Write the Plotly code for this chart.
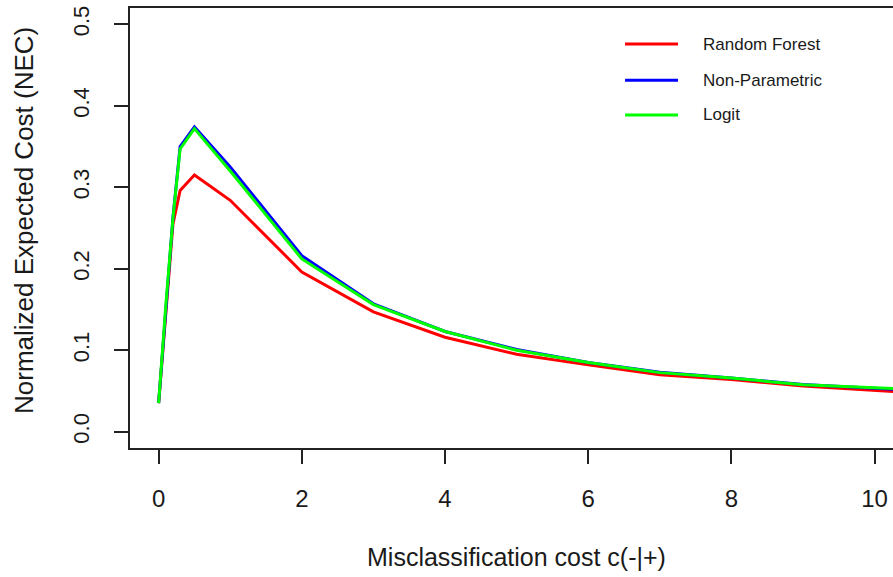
import plotly.graph_objects as go

# Data
cost = [0, 0.1, 0.2, 0.3, 0.5, 1, 2, 3, 4, 5, 6, 7, 8, 9, 10, 10.3]
random_forest = [0.035, 0.150, 0.255, 0.296, 0.315, 0.284, 0.196, 0.147, 0.116, 0.095, 0.082, 0.070, 0.064, 0.056, 0.050, 0.049]
non_parametric = [0.035, 0.155, 0.263, 0.350, 0.374, 0.325, 0.216, 0.157, 0.123, 0.101, 0.085, 0.073, 0.066, 0.058, 0.053, 0.052]
logit = [0.035, 0.155, 0.262, 0.347, 0.372, 0.320, 0.212, 0.156, 0.123, 0.100, 0.085, 0.0725, 0.066, 0.0575, 0.054, 0.053]

series_names = ["Random Forest", "Non-Parametric", "Logit"]
series_values = [random_forest, non_parametric, logit]
series_colors = ["#FF0000", "#0000FF", "#00FF00"]

x_ticks = [0, 2, 4, 6, 8, 10]
y_ticks = [0.0, 0.1, 0.2, 0.3, 0.4, 0.5]
y_tick_text = ["0.0", "0.1", "0.2", "0.3", "0.4", "0.5"]

FONT = "Liberation Sans, Arial, sans-serif"
TXT = "#1a1a1a"

fig = go.Figure()
for name, vals, col in zip(series_names, series_values, series_colors):
    fig.add_trace(go.Scatter(x=cost, y=vals, mode="lines", name=name,
                             line=dict(color=col, width=3), showlegend=False))

# Legend drawn in R style (no box)
legend_y = [0.918, 0.836, 0.757]
for name, col, ly in zip(series_names, series_colors, legend_y):
    fig.add_shape(type="line", xref="paper", yref="paper",
                  x0=0.6488, x1=0.7182, y0=ly, y1=ly,
                  line=dict(color=col, width=3))
    fig.add_annotation(text=name, xref="paper", yref="paper", x=0.749, y=ly,
                       xanchor="left", yanchor="middle", showarrow=False,
                       font=dict(family=FONT, size=17, color=TXT))

# Axis titles
fig.add_annotation(text="Normalized Expected Cost (NEC)", xref="paper", yref="paper",
                   x=-0.1389, y=0.516, textangle=-90, showarrow=False,
                   xanchor="center", yanchor="middle",
                   font=dict(family=FONT, size=26, color=TXT))
fig.add_annotation(text="Misclassification cost c(-|+)", xref="paper", yref="paper",
                   x=0.507, y=-0.2477, showarrow=False,
                   xanchor="center", yanchor="middle",
                   font=dict(family=FONT, size=25, color=TXT))

fig.update_xaxes(range=[-0.4, 10.257], tickmode="array", tickvals=x_ticks,
                 ticks="outside", ticklen=14, tickwidth=1.5, tickcolor="#222",
                 showline=True, linecolor="#222", linewidth=1.5, mirror=True,
                 showgrid=False, zeroline=False, ticklabelstandoff=14,
                 tickfont=dict(family=FONT, size=24, color=TXT))
fig.update_yaxes(range=[-0.02, 0.52], tickmode="array", tickvals=y_ticks,
                 ticktext=y_tick_text, tickangle=-90,
                 ticks="outside", ticklen=14, tickwidth=1.5, tickcolor="#222",
                 showline=True, linecolor="#222", linewidth=1.5, mirror=False,
                 showgrid=False, zeroline=False, ticklabelstandoff=16,
                 tickfont=dict(family=FONT, size=22, color=TXT))

fig.update_layout(width=893, height=577,
                  margin=dict(l=130, r=0, t=8, b=129, pad=0),
                  plot_bgcolor="white", paper_bgcolor="white",
                  showlegend=False)

fig.write_html("out.html")
